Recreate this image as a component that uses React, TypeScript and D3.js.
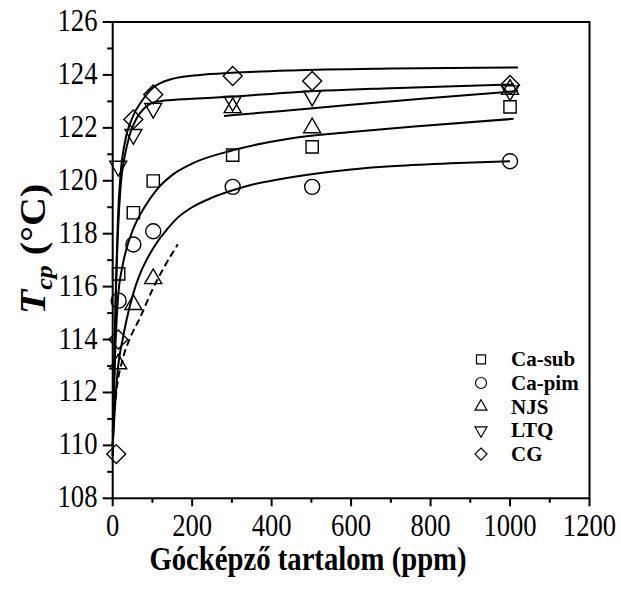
import React from "react";
import * as d3 from "d3";

// ---------- data ----------
const seriesNames = ["Ca-sub", "Ca-pim", "NJS", "LTQ", "CG"];

// measured points [ppm, Tcp]
const caSubPoints: [number, number][] = [[15, 116.48], [52, 118.79], [102, 119.99], [302, 120.97], [502, 121.28], [1000, 122.79]];
const caPimPoints: [number, number][] = [[15, 115.47], [52, 117.59], [102, 118.09], [302, 119.77], [502, 119.77], [1000, 120.74]];
const njsPoints: [number, number][] = [[14, 113.08], [52, 115.32], [102, 116.3], [302, 122.76], [502, 122.0], [1000, 123.45]];
const ltqPoints: [number, number][] = [[14, 120.55], [52, 121.75], [102, 122.74], [302, 123.0], [502, 123.2], [1000, 123.4]];
const cgPoints: [number, number][] = [[9, 109.67], [14, 114.0], [52, 122.32], [102, 123.26], [302, 123.96], [502, 123.77], [1000, 123.62]];

// fitted curves [ppm, Tcp]
const caSubFit: [number, number][] = [[0, 110.0], [5, 113.0], [13, 115.5], [25, 116.8], [35, 117.45], [51, 118.15], [80, 119.0], [110, 119.65], [152, 120.24], [200, 120.65], [302, 121.15], [447, 121.6], [600, 121.84], [759, 122.05], [1009, 122.34]];
const caPimFit: [number, number][] = [[0, 110.0], [5, 111.3], [13, 112.9], [25, 114.0], [35, 114.75], [50, 115.65], [68, 116.45], [85, 117.0], [102, 117.45], [120, 117.85], [136, 118.15], [161, 118.57], [200, 119.0], [250, 119.36], [300, 119.63], [350, 119.85], [420, 120.06], [500, 120.25], [600, 120.43], [700, 120.55], [850, 120.66], [1000, 120.74]];
const njsFitUpper: [number, number][] = [[280, 122.45], [420, 122.63], [600, 122.87], [800, 123.13], [1020, 123.39]];
const njsFitDashed: [number, number][] = [[0, 110.5], [9, 112.0], [26, 113.3], [45, 114.1], [68, 114.8], [102, 115.95], [130, 116.75], [164, 117.6]];
const ltqFit: [number, number][] = [[0, 109.6], [4, 112.8], [8, 115.7], [13, 118.0], [20, 119.8], [30, 120.9], [43, 121.75], [60, 122.35], [80, 122.75], [100, 122.95], [130, 123.03], [200, 123.1], [300, 123.18], [450, 123.34], [700, 123.5], [1010, 123.64]];
const cgFit: [number, number][] = [[0, 109.6], [4, 113.0], [8, 116.0], [13, 118.5], [20, 120.3], [30, 121.4], [50, 122.4], [75, 123.05], [100, 123.5], [115, 123.65], [150, 123.85], [220, 124.0], [300, 124.08], [450, 124.17], [700, 124.24], [1020, 124.28]];

const xTicks = [0, 200, 400, 600, 800, 1000, 1200];
const xMinorTicks = [100, 300, 500, 700, 900, 1100];
const yTicks = [108, 110, 112, 114, 116, 118, 120, 122, 124, 126];
const yMinorTicks = [109, 111, 113, 115, 117, 119, 121, 123, 125];

const xTitle = "Gócképző tartalom (ppm)";

// ---------- layout ----------
const W = 621, H = 593;
const x = d3.scaleLinear().domain([0, 1200]).range([112.7, 589.5]);
const y = d3.scaleLinear().domain([108, 126]).range([498.3, 22]);
const FONT = "'Liberation Serif', 'Times New Roman', serif";

type Shape = "square" | "circle" | "up" | "down" | "diamond";
const shapes: Shape[] = ["square", "circle", "up", "down", "diamond"];
const pointSets = [caSubPoints, caPimPoints, njsPoints, ltqPoints, cgPoints];

function symbolPath(shape: Shape, big: boolean): { d: string; rot: number } {
  const sizes = big
    ? { square: 150, circle: 177, up: 125, down: 125, diamond: 180 }
    : { square: 81, circle: 95, up: 62, down: 62, diamond: 72 };
  const type =
    shape === "square" || shape === "diamond" ? d3.symbolSquare :
    shape === "circle" ? d3.symbolCircle : d3.symbolTriangle;
  const d = d3.symbol().type(type).size(sizes[shape])() as string;
  const rot = shape === "diamond" ? 45 : shape === "down" ? 180 : 0;
  return { d, rot };
}

const line = d3.line<[number, number]>()
  .x(d => x(d[0]))
  .y(d => y(d[1]))
  .curve(d3.curveMonotoneX);

export default function App() {
  const solidFits = [caSubFit, caPimFit, njsFitUpper, ltqFit, cgFit];
  const legendY0 = 359.3, legendStep = 23.7;
  return (
    <svg width={W} height={H} style={{ position: "absolute", left: 0, top: 0, background: "#fff" }}>
      <rect x={0} y={0} width={W} height={H} fill="#fff" />
      {/* curves */}
      {solidFits.map((f, i) => (
        <path key={"f" + i} d={line(f) as string} fill="none" stroke="#000" strokeWidth={2} />
      ))}
      <path d={line(njsFitDashed) as string} fill="none" stroke="#000" strokeWidth={2} strokeDasharray="7,4" />

      {/* markers */}
      {pointSets.map((pts, si) => {
        const s = symbolPath(shapes[si], true);
        return pts.map((p, pi) => (
          <path key={si + "-" + pi} d={s.d}
            transform={`translate(${x(p[0])},${y(p[1])}) rotate(${s.rot})`}
            fill="none" stroke="#000" strokeWidth={1.4} />
        ));
      })}

      {/* frame */}
      <rect x={x(0)} y={y(126)} width={x(1200) - x(0)} height={y(108) - y(126)} fill="none" stroke="#000" strokeWidth={2} />

      {/* x ticks */}
      {xTicks.map(t => (
        <line key={"xt" + t} x1={x(t)} x2={x(t)} y1={y(108)} y2={y(108) + 8} stroke="#000" strokeWidth={2} />
      ))}
      {xMinorTicks.map(t => (
        <line key={"xm" + t} x1={x(t)} x2={x(t)} y1={y(108)} y2={y(108) + 4.5} stroke="#000" strokeWidth={2} />
      ))}
      {xTicks.map(t => (
        <g key={"xl" + t} transform={`translate(${x(t)},536) scale(0.86,1)`}>
          <text textAnchor="middle" fontFamily={FONT} fontSize={31} fill="#000">{t}</text>
        </g>
      ))}

      {/* y ticks */}
      {yTicks.map(t => (
        <line key={"yt" + t} x1={x(0) - 10} x2={x(0)} y1={y(t)} y2={y(t)} stroke="#000" strokeWidth={2} />
      ))}
      {yMinorTicks.map(t => (
        <line key={"ym" + t} x1={x(0) - 5.5} x2={x(0)} y1={y(t)} y2={y(t)} stroke="#000" strokeWidth={2} />
      ))}
      {yTicks.map(t => (
        <g key={"yl" + t} transform={`translate(97.5,${y(t) + 9}) scale(0.86,1)`}>
          <text textAnchor="end" fontFamily={FONT} fontSize={31} fill="#000">{t}</text>
        </g>
      ))}

      {/* axis titles */}
      <g transform="translate(308,570) scale(0.87,1)">
        <text textAnchor="middle" fontFamily={FONT} fontSize={33} fontWeight="bold" fill="#000">{xTitle}</text>
      </g>
      <g transform="translate(45,249) scale(0.9,1) rotate(-90)">
        <text textAnchor="middle" fontFamily={FONT} fontSize={40} fontWeight="bold" fill="#000">
          <tspan fontStyle="italic">T</tspan>
          <tspan fontStyle="italic" fontSize={26} dy={8}>cp</tspan>
          <tspan dy={-8}> (°C)</tspan>
        </text>
      </g>

      {/* legend */}
      {seriesNames.map((n, i) => {
        const s = symbolPath(shapes[i], false);
        const ly = legendY0 + i * legendStep;
        return (
          <g key={"lg" + n}>
            <path d={s.d} transform={`translate(481,${ly}) rotate(${s.rot})`} fill="none" stroke="#000" strokeWidth={1.2} />
            <text x={511} y={ly + 7} fontFamily={FONT} fontSize={21} fontWeight="bold" fill="#000">{n}</text>
          </g>
        );
      })}
    </svg>
  );
}
